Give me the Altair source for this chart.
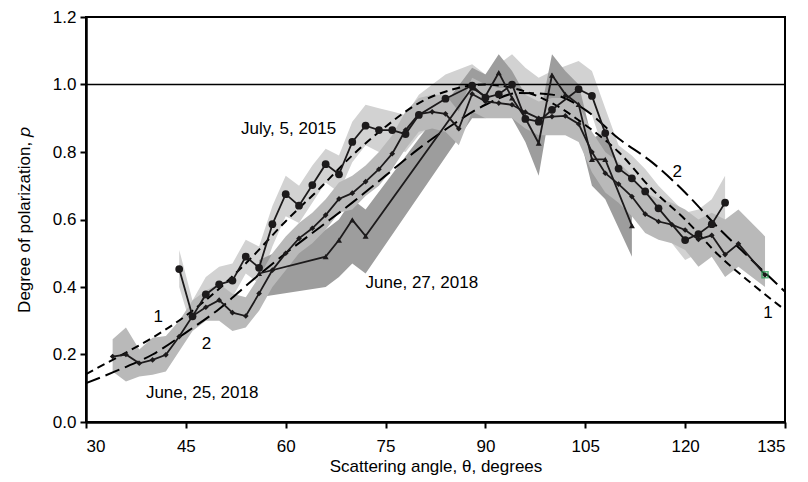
import altair as alt
import pandas as pd

# ---- July, 5, 2015 (circles, light band)
jul_x = [44, 46, 48, 50, 52, 54, 56, 58, 60, 62, 64, 66, 68, 70, 72, 74, 76, 78, 80, 84,
         88, 90, 92, 94, 96, 98, 100, 104, 106, 108, 110, 112, 114, 116, 120, 122, 124, 126]
jul_y = [.453, .313, .378, .408, .419, .490, .457, .586, .675, .641, .702, .764, .734, .830, .878, .865, .865, .853, .910, .958,
         .997, .961, .971, 1.0, .898, .89, .925, .986, .966, .856, .751, .722, .683, .633, .539, .557, .586, .650]
jul_lo = [.40, .27, .33, .36, .37, .44, .41, .52, .61, .59, .65, .71, .68, .77, .82, .80, .81, .80, .85, .91,
          .95, .91, .92, .94, .84, .83, .87, .93, .91, .79, .69, .66, .62, .58, .48, .50, .51, .56]
jul_hi = [.51, .36, .43, .46, .47, .54, .52, .64, .73, .70, .76, .81, .79, .89, .94, .93, .92, .91, .97, 1.03,
          1.06, 1.03, 1.06, 1.09, 1.05, 1.02, 1.04, 1.07, 1.04, .93, .82, .79, .75, .70, .62, .63, .66, .73]

# ---- June, 25, 2018 (small diamonds, medium band)
j25_x = [34, 36, 38, 40, 42, 44, 46, 48, 50, 52, 54, 56, 58, 60, 62, 64, 66, 68, 70, 72, 74, 76, 78, 80, 82, 84, 86,
         88, 90, 92, 94, 96, 98, 100, 102, 104, 106, 108, 110, 112, 114, 116, 118, 120, 122, 124, 126, 128, 132]
j25_y = [.194, .200, .174, .184, .199, .253, .314, .340, .361, .324, .314, .381, .450, .500, .544, .574, .613, .661, .678,
         .712, .749, .795, .865, .912, .919, .913, .869, .972, .950, .945, .940, .918, .900, .905, .907, .883, .800, .737,
         .705, .668, .616, .594, .585, .569, .541, .553, .496, .528, .436]
j25_lo = [.15, .12, .135, .14, .15, .21, .27, .30, .30, .27, .28, .33, .40, .45, .50, .53, .57, .62, .63, .67, .70, .75,
          .81, .86, .87, .86, .82, .92, .90, .90, .90, .87, .85, .85, .85, .83, .74, .68, .65, .61, .56, .54, .53, .51,
          .46, .49, .43, .46, .40]
j25_hi = [.245, .28, .215, .25, .255, .30, .36, .39, .41, .38, .37, .43, .50, .55, .59, .62, .66, .71, .73, .76, .80, .85,
          .92, .96, .97, .97, .92, 1.02, 1.00, .99, .99, .97, .95, .96, .96, .94, .86, .80, .77, .73, .68, .66, .65, .63,
          .60, .62, .60, .63, .55]

# ---- June, 27, 2018 (triangles, dark band)
j27_x = [56, 66, 68, 70, 72, 88, 90, 92, 94, 96, 98, 100, 102, 104, 106, 108, 112]
j27_y = [.44, .49, .539, .599, .551, .99, .965, 1.035, .96, .90, .826, 1.028, .971, .941, .778, .778, .582]
j27_lo = [.37, .40, .43, .47, .44, .90, .90, .97, .90, .83, .73, .96, .90, .86, .70, .66, .49]
j27_hi = [.48, .57, .60, .66, .63, 1.05, 1.03, 1.09, 1.04, .97, .89, 1.09, 1.04, 1.00, .84, .86, .66]

# ---- model curves 1 and 2
crv_x = [30, 35, 40, 45, 50, 55, 60, 65, 70, 75, 80, 85, 90, 95, 100, 105, 110, 115, 120, 125, 130, 135]
crv1_y = [.142, .195, .25, .315, .395, .49, .595, .69, .79, .875, .945, .985, 1.0, .985, .945, .88, .80, .69, .60,
          .495, .41, .332]
crv2_y = [.115, .155, .20, .265, .335, .42, .50, .575, .65, .73, .81, .88, .94, .975, .97, .925, .84, .77, .68,
          .575, .48, .386]

# ---- annotations
ann_text = ["July, 5, 2015", "June, 27, 2018", "June, 25, 2018", "1", "2", "2", "1"]
ann_x = [53.3, 72.0, 39.0, 40.15, 47.4, 118.1, 131.75]
ann_y = [.852, .397, .070, .297, .215, .727, .307]

FONT = "Liberation Sans"
INK = "#1c1a1b"

df_jul = pd.DataFrame({"x": jul_x, "y": jul_y, "lo": jul_lo, "hi": jul_hi})
df_j25 = pd.DataFrame({"x": j25_x, "y": j25_y, "lo": j25_lo, "hi": j25_hi})
df_j27 = pd.DataFrame({"x": j27_x, "y": j27_y, "lo": j27_lo, "hi": j27_hi})
df_c1 = pd.DataFrame({"x": crv_x, "y": crv1_y})
df_c2 = pd.DataFrame({"x": crv_x, "y": crv2_y})
df_ann = pd.DataFrame({"x": ann_x, "y": ann_y, "t": ann_text})
df_last = df_j25.tail(1)
df_one = pd.DataFrame({"x": [30, 135], "y": [1.0, 1.0]})

xs = alt.Scale(domain=[30, 135], nice=False, zero=False)
ys = alt.Scale(domain=[0, 1.2], nice=False, zero=False)
xaxis = alt.Axis(values=[30, 45, 60, 75, 90, 105, 120, 135], title="Scattering angle, θ, degrees",
                 grid=False, domainColor="black", domainWidth=2.5, tickColor="black", tickWidth=2,
                 tickSize=6, labelFontSize=17, labelFont=FONT, labelColor="black", labelPadding=10,
                 titleFontSize=17, titleFont=FONT, titleFontWeight="normal", titleColor="black",
                 titlePadding=4)
yaxis = alt.Axis(values=[0, 0.2, 0.4, 0.6, 0.8, 1.0, 1.2], format=".1f", title="Degree of polarization, 𝑝",
                 grid=False, domainColor="black", domainWidth=2.5, tickColor="black", tickWidth=2,
                 tickSize=6, labelFontSize=17, labelFont=FONT, labelColor="black", labelPadding=4,
                 titleFontSize=17, titleFont=FONT, titleFontWeight="normal", titleColor="black",
                 titlePadding=19)

X = alt.X("x:Q", scale=xs, axis=xaxis)
Y = alt.Y("y:Q", scale=ys, axis=yaxis)
YL = alt.Y("lo:Q", scale=ys, axis=yaxis)


def band(df, color):
    return alt.Chart(df).mark_area(color=color, opacity=1, interpolate="linear").encode(
        x=X, y=YL, y2="hi:Q")


def series(df, shape, size):
    ln = alt.Chart(df).mark_line(color=INK, strokeWidth=1.8).encode(x=X, y=Y)
    pt = alt.Chart(df).mark_point(shape=shape, size=size, filled=True, color=INK, opacity=1).encode(x=X, y=Y)
    return ln + pt


layers = [
    band(df_jul, "#d2d2d2"),
    band(df_j27, "#9d9d9d"),
    band(df_j25, "#b9b9b9"),
    alt.Chart(df_c1).mark_line(color="black", strokeWidth=2, strokeDash=[8, 5], interpolate="monotone").encode(x=X, y=Y),
    alt.Chart(df_c2).mark_line(color="black", strokeWidth=2, strokeDash=[15, 6], interpolate="monotone").encode(x=X, y=Y),
    alt.Chart(df_one).mark_line(color="black", strokeWidth=1.6).encode(x=X, y=Y),
    series(df_j27, "triangle-up", 36),
    series(df_j25, "diamond", 32),
    series(df_jul, "circle", 60),
    alt.Chart(df_last).mark_point(shape="square", size=36, filled=False, color="#1f9a4c", strokeWidth=1.5).encode(x=X, y=Y),
    alt.Chart(df_ann).mark_text(align="left", baseline="alphabetic", fontSize=17, font=FONT, color="black").encode(
        x=X, y=Y, text="t:N"),
]

chart = alt.layer(*layers).properties(
    width=699, height=405,
    autosize=alt.AutoSizeParams(type="none"),
    padding={"left": 78, "top": 9, "right": 12, "bottom": 58},
).configure_view(stroke="black", strokeWidth=2)

chart.save("out.html", embed_options={"renderer": "svg", "actions": False})
